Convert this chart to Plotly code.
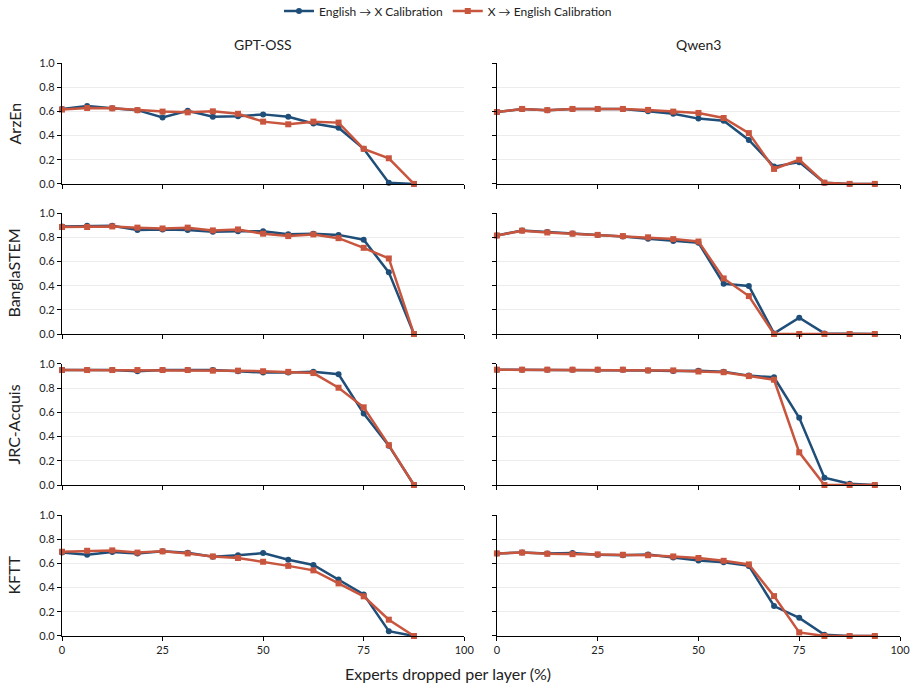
import plotly.graph_objects as go

x_gpt = [0, 6.25, 12.5, 18.75, 25, 31.25, 37.5, 43.75, 50, 56.25, 62.5, 68.75, 75, 81.25, 87.5]
x_qwen = [0, 6.25, 12.5, 18.75, 25, 31.25, 37.5, 43.75, 50, 56.25, 62.5, 68.75, 75, 81.25, 87.5, 93.75]

datasets = ["ArzEn", "BanglaSTEM", "JRC-Acquis", "KFTT"]
models = ["GPT-OSS", "Qwen3"]
series_names = ["English → X Calibration", "X → English Calibration"]

# GPT-OSS
gpt_en_x = {
    "ArzEn": [0.62, 0.645, 0.625, 0.61, 0.55, 0.605, 0.555, 0.56, 0.575, 0.555, 0.50, 0.465, 0.29, 0.01, 0.0],
    "BanglaSTEM": [0.89, 0.895, 0.895, 0.86, 0.865, 0.86, 0.845, 0.85, 0.85, 0.825, 0.83, 0.82, 0.78, 0.51, 0.0],
    "JRC-Acquis": [0.95, 0.95, 0.95, 0.94, 0.95, 0.95, 0.95, 0.94, 0.93, 0.93, 0.935, 0.915, 0.59, 0.325, 0.0],
    "KFTT": [0.69, 0.672, 0.694, 0.683, 0.70, 0.689, 0.656, 0.667, 0.686, 0.63, 0.587, 0.468, 0.344, 0.04, 0.0],
}
gpt_x_en = {
    "ArzEn": [0.615, 0.628, 0.625, 0.61, 0.598, 0.592, 0.60, 0.58, 0.515, 0.493, 0.515, 0.507, 0.29, 0.212, 0.0],
    "BanglaSTEM": [0.885, 0.885, 0.89, 0.88, 0.873, 0.88, 0.857, 0.865, 0.83, 0.81, 0.824, 0.793, 0.713, 0.625, 0.0],
    "JRC-Acquis": [0.95, 0.95, 0.95, 0.95, 0.95, 0.95, 0.945, 0.945, 0.94, 0.935, 0.925, 0.804, 0.642, 0.33, 0.0],
    "KFTT": [0.697, 0.705, 0.708, 0.69, 0.70, 0.683, 0.658, 0.645, 0.614, 0.58, 0.543, 0.435, 0.328, 0.135, 0.0],
}
# Qwen3
qwen_en_x = {
    "ArzEn": [0.595, 0.62, 0.61, 0.62, 0.62, 0.62, 0.60, 0.58, 0.54, 0.523, 0.364, 0.143, 0.18, 0.01, 0.0, 0.0],
    "BanglaSTEM": [0.815, 0.857, 0.843, 0.832, 0.82, 0.807, 0.788, 0.769, 0.755, 0.416, 0.397, 0.005, 0.135, 0.005, 0.0, 0.0],
    "JRC-Acquis": [0.953, 0.953, 0.953, 0.953, 0.953, 0.953, 0.947, 0.943, 0.945, 0.935, 0.904, 0.89, 0.556, 0.06, 0.01, 0.0],
    "KFTT": [0.683, 0.69, 0.683, 0.686, 0.672, 0.667, 0.675, 0.65, 0.625, 0.61, 0.58, 0.248, 0.15, 0.01, 0.0, 0.0],
}
qwen_x_en = {
    "ArzEn": [0.595, 0.62, 0.61, 0.62, 0.62, 0.62, 0.612, 0.598, 0.587, 0.545, 0.42, 0.124, 0.20, 0.01, 0.0, 0.0],
    "BanglaSTEM": [0.815, 0.855, 0.84, 0.83, 0.82, 0.81, 0.80, 0.785, 0.765, 0.46, 0.314, 0.0, 0.0, 0.0, 0.0, 0.0],
    "JRC-Acquis": [0.953, 0.953, 0.953, 0.953, 0.953, 0.953, 0.947, 0.947, 0.938, 0.932, 0.90, 0.87, 0.27, 0.0, 0.0, 0.0],
    "KFTT": [0.683, 0.69, 0.68, 0.677, 0.675, 0.672, 0.668, 0.658, 0.645, 0.622, 0.592, 0.33, 0.03, 0.0, 0.0, 0.0],
}

BLUE = "#1f4e79"
ORANGE = "#c8553d"
FONT = "Lato"

fig = go.Figure()

xdom = [[0.0, 0.48], [0.519, 1.0]]
ydom = [[0.789, 1.0], [0.527, 0.738], [0.2635, 0.4747], [0.0, 0.211]]

idx = 0
for r, ds in enumerate(datasets):
    for c, m in enumerate(models):
        idx += 1
        xa = "x" if idx == 1 else f"x{idx}"
        ya = "y" if idx == 1 else f"y{idx}"
        xs = x_gpt if c == 0 else x_qwen
        blue_vals = (gpt_en_x if c == 0 else qwen_en_x)[ds]
        orange_vals = (gpt_x_en if c == 0 else qwen_x_en)[ds]
        fig.add_trace(go.Scatter(
            x=xs, y=blue_vals, mode="lines+markers", name=series_names[0],
            line=dict(color=BLUE, width=2.5), marker=dict(symbol="circle", size=6, color=BLUE),
            xaxis=xa, yaxis=ya, showlegend=(idx == 1), cliponaxis=False, legendgroup="a"))
        fig.add_trace(go.Scatter(
            x=xs, y=orange_vals, mode="lines+markers", name=series_names[1],
            line=dict(color=ORANGE, width=2.5), marker=dict(symbol="square", size=6, color=ORANGE),
            xaxis=xa, yaxis=ya, showlegend=(idx == 1), cliponaxis=False, legendgroup="b"))
        xkey = "xaxis" if idx == 1 else f"xaxis{idx}"
        ykey = "yaxis" if idx == 1 else f"yaxis{idx}"
        fig.layout[xkey] = dict(
            domain=xdom[c], anchor=ya, range=[0, 100], tickvals=[0, 25, 50, 75, 100],
            showticklabels=(r == 3), ticks="outside", ticklen=4, tickcolor="black",
            showline=True, linecolor="black", linewidth=1.2, showgrid=False, zeroline=False,
            tickfont=dict(family=FONT, size=11, color="#222"))
        fig.layout[ykey] = dict(
            domain=ydom[r], anchor=xa, range=[0, 1.0], tickvals=[0, 0.2, 0.4, 0.6, 0.8, 1.0],
            ticktext=["0.0", "0.2", "0.4", "0.6", "0.8", "1.0"],
            showticklabels=(c == 0), ticks="outside", ticklen=4, tickcolor="black",
            showline=True, linecolor="black", linewidth=1.2, showgrid=True, gridcolor="#ececec",
            gridwidth=1, zeroline=False, tickfont=dict(family=FONT, size=11, color="#222"))

annotations = []
for c, m in enumerate(models):
    annotations.append(dict(text=m, x=sum(xdom[c]) / 2, y=1.0, xref="paper", yref="paper",
                            xanchor="center", yanchor="bottom", yshift=8, showarrow=False,
                            font=dict(family=FONT, size=14, color="#222")))
for r, ds in enumerate(datasets):
    annotations.append(dict(text=ds, x=0, y=sum(ydom[r]) / 2, xref="paper", yref="paper",
                            xanchor="center", yanchor="middle", xshift=-48, textangle=-90,
                            showarrow=False, font=dict(family=FONT, size=16, color="#222")))
annotations.append(dict(text="Experts dropped per layer (%)", x=0.4606, y=-0.0646, xref="paper",
                        yref="paper", xanchor="center", yanchor="middle", showarrow=False,
                        font=dict(family=FONT, size=16, color="#222")))

fig.update_layout(
    width=915, height=689,
    margin=dict(l=62, r=15, t=63, b=53, autoexpand=False),
    paper_bgcolor="white", plot_bgcolor="white",
    annotations=annotations,
    legend=dict(orientation="h", x=0.4606, xanchor="center", yref="container", y=0.984,
                yanchor="middle", font=dict(family=FONT, size=12, color="#222"), itemwidth=30,
                bgcolor="rgba(0,0,0,0)"),
    font=dict(family=FONT),
)

fig.write_html("out.html")
